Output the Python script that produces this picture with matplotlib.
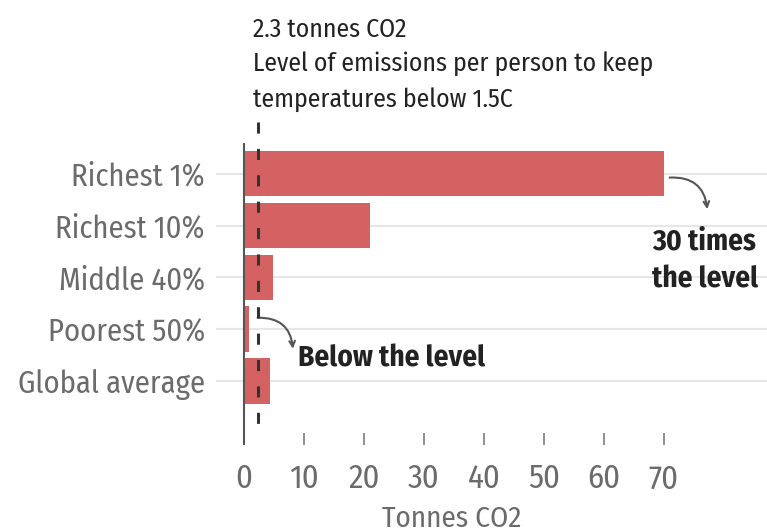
import matplotlib
matplotlib.use("Agg")
import matplotlib.pyplot as plt

plt.rcParams['font.family'] = ['Fira Sans Condensed', 'DejaVu Sans']
plt.rcParams['lines.scale_dashes'] = False

# ---- data ----
categories = ["Richest 1%", "Richest 10%", "Middle 40%", "Poorest 50%", "Global average"]
values = [70, 21, 4.8, 0.8, 4.4]
threshold = 2.3
xticks = [0, 10, 20, 30, 40, 50, 60, 70]

BAR = "#d46262"
GREY = "#6b6b6b"
DARK = "#222222"

fig = plt.figure(figsize=(7.67, 5.32), dpi=100)
ax = fig.add_axes([216/767, 1-445/532, 551/767, 302/532])

y = list(range(len(categories)))
ax.barh(y, values, height=0.88, color=BAR, zorder=2)

ax.set_xlim(-4.67, 87.2)
ax.set_ylim(5.23, -0.59)

for s in ax.spines.values():
    s.set_visible(False)
ax.axvline(0, color="#555555", lw=1.5, zorder=3)

ax.set_yticks(y)
ax.set_yticklabels(categories)
ax.tick_params(axis='y', length=0, pad=8, labelsize=22, labelcolor=GREY)
ax.grid(axis='y', color="#e6e6e6", lw=1.5, zorder=0)
ax.set_axisbelow(True)

ax.set_xticks(xticks)
ax.set_xticklabels([str(t) for t in xticks])
ax.tick_params(axis='x', direction='in', length=8.6, width=1.3, color="#888888",
               pad=13, labelsize=23.5, labelcolor=GREY)

ax.set_xlabel("Tonnes CO2", fontsize=21, color=GREY)
ax.xaxis.set_label_coords(0.428, -0.197)

# threshold dashed line
ax.plot([threshold, threshold], [-1.0, 5.0], color="#333333", lw=2.2,
        dashes=(8, 11), clip_on=False, zorder=4)

# header text
fig.text(253/767, 1-37/532, "2.3 tonnes CO2", fontsize=18.5, color=DARK, va='baseline')
fig.text(253/767, 1-71/532, "Level of emissions per person to keep", fontsize=18.5, color=DARK, va='baseline')
fig.text(253/767, 1-107/532, "temperatures below 1.5C", fontsize=18.5, color=DARK, va='baseline')

# annotations
ax.annotate("", xy=(77.3, 0.74), xytext=(values[0] + 0.5, 0.08),
            arrowprops=dict(arrowstyle="->", color="#555555", lw=1.5,
                            connectionstyle="arc3,rad=-0.5"))
ax.text(68, 1.47, "30 times", fontsize=21, fontweight='bold', color=DARK, va='baseline', ha='left')
ax.text(68, 2.2, "the level", fontsize=21, fontweight='bold', color=DARK, va='baseline', ha='left')

ax.annotate("", xy=(8.2, 3.43), xytext=(values[3] + 1.0, 2.78),
            arrowprops=dict(arrowstyle="->", color="#555555", lw=1.5,
                            connectionstyle="arc3,rad=-0.5"))
ax.text(9.0, 3.72, "Below the level", fontsize=21, fontweight='bold', color=DARK, va='baseline', ha='left')

fig.savefig("out.png", dpi=100, facecolor="white")
